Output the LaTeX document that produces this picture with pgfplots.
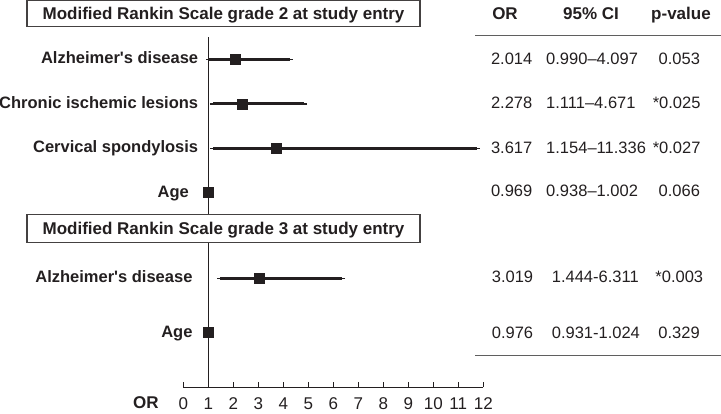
\documentclass[border=0pt]{standalone}
\usepackage{pgfplots}
\pgfplotsset{compat=1.18}
\usepackage{fontspec}
\setmainfont{Liberation Sans}
\usepackage{graphicx}
\definecolor{ink}{RGB}{35,31,32}
\definecolor{rulec}{RGB}{95,95,95}
\begin{document}
\begin{tikzpicture}[font=\fontsize{16.5}{19}\selectfont, text=ink]
\begin{axis}[name=ax, scale only axis, width=300pt, height=387pt,
  xmin=0, xmax=12, ymin=-387, ymax=0,
  axis x line=bottom, axis y line=none,
  axis line style={-, line width=1pt, draw=ink},
  xtick={0,1,...,12}, tick align=inside, major tick length=5pt,
  tick style={line width=1pt, draw=ink},
  xticklabel style={font=\fontsize{17}{20}\selectfont, text=ink, yshift=-7pt},
  /pgf/number format/assume math mode=true, clip=false]
\draw[ink, line width=1pt] (axis cs:1,-387) -- (axis cs:1,-37);
\addplot[only marks, mark=square*, mark size=5pt, draw=ink, fill=ink, mark options={line width=0.8pt},
  error bars/.cd, x dir=both, x explicit,
  error bar style={line width=3pt, draw=ink},
  error mark options={line width=1.5pt, mark size=2.8pt, draw=ink}]
coordinates {
(2.09,-59.3) += (2.18,0) -= (1.05,0)
(2.36,-104.0) += (2.48,0) -= (1.18,0)
(3.73,-148.3) += (8.02,0) -= (2.53,0)
(1.00,-192.7) += (0.02,0) -= (0.03,0)
(3.04,-278.3) += (3.32,0) -= (1.57,0)
(1.00,-332.7) += (0.02,0) -= (0.04,0)
};
\end{axis}
\begin{scope}[shift={(ax.south west)}, xshift=-183.3pt, yshift=387pt, x=1pt, y=-1pt]
% title boxes
\draw[line width=1.2pt, draw=ink!85, fill=white] (27,0.8) rectangle (420,26.7);
\node[anchor=base, font=\bfseries\fontsize{17}{20}\selectfont] at (223.5,20) {Modified Rankin Scale grade 2 at study entry};
\draw[line width=1.2pt, draw=ink!85, fill=white] (27,214.3) rectangle (420,242.3);
\node[anchor=base, font=\bfseries\fontsize{17}{20}\selectfont] at (223.5,234.3) {Modified Rankin Scale grade 3 at study entry};
% headers
\node[anchor=base, font=\bfseries\fontsize{17}{20}\selectfont] at (505,20) {OR};
\node[anchor=base, font=\bfseries\fontsize{17}{20}\selectfont] at (591,20) {95\% CI};
\node[anchor=base, font=\bfseries\fontsize{17}{20}\selectfont] at (681,20) {p-value};
\draw[rulec, line width=1.2pt] (475,35.7) -- (721,35.7);
\draw[rulec, line width=1.2pt] (475,355.7) -- (721,355.7);
% row labels
\begin{scope}[every node/.style={anchor=base east, font=\bfseries\fontsize{16.5}{19}\selectfont}]
\node at (201.7,64) {Alzheimer\textquotesingle s disease};
\node at (201.7,108.3) {Chronic ischemic lesions};
\node at (201.7,152.7) {Cervical spondylosis};
\node at (192.3,197.3) {Age};
\node at (196,282.3) {Alzheimer\textquotesingle s disease};
\node at (196,337.3) {Age};
\end{scope}
% OR and CI columns
\begin{scope}[every node/.style={anchor=base west}]
\node at (487.5,64.3) {2.014};
\node at (487.5,108.3) {2.278};
\node at (487.5,153.3) {3.617};
\node at (487.5,196.7) {0.969};
\node at (488.3,282.7) {3.019};
\node at (488.3,338.3) {0.976};
\node at (542.7,64.3) {0.990--4.097};
\node at (542.7,108.3) {1.111--4.671};
\node at (542.7,153.3) {1.154--11.336};
\node at (542.7,196.7) {0.938--1.002};
\node at (548.3,282.7) {1.444-6.311};
\node at (548.3,338.3) {0.931-1.024};
\end{scope}
% p-values
\begin{scope}[every node/.style={anchor=base east}]
\node at (703.5,64.3) {0.053};
\node at (704,108.3) {*0.025};
\node at (704,153.3) {*0.027};
\node at (703.5,196.7) {0.066};
\node at (706.7,282.7) {*0.003};
\node at (703.3,338.3) {0.329};
\end{scope}
\node[anchor=base, font=\bfseries\fontsize{17}{20}\selectfont] at (146,408) {OR};
\pgfresetboundingbox
\path (0,0) rectangle (721,413);
\end{scope}
\end{tikzpicture}
\end{document}
